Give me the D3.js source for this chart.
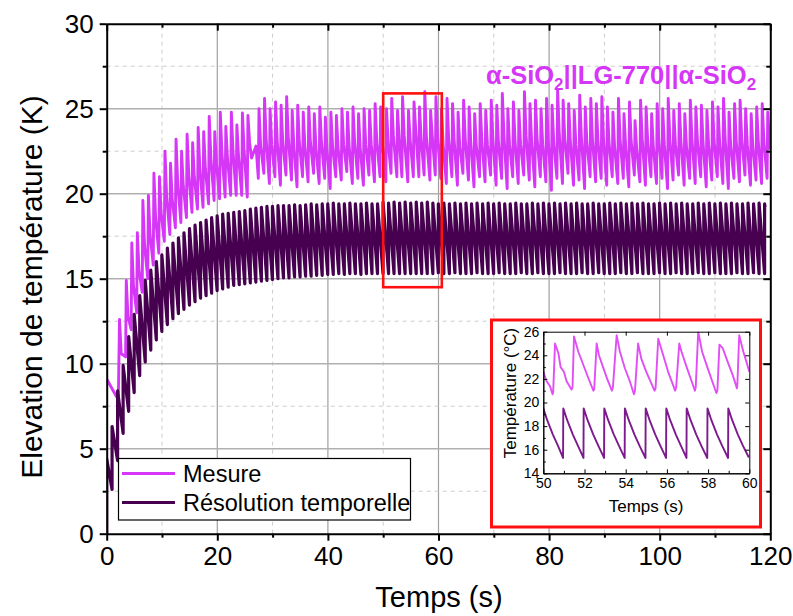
<!DOCTYPE html>
<html><head><meta charset="utf-8">
<script src="https://cdn.jsdelivr.net/npm/d3@7"></script>
<style>
body{margin:0;background:#fff}
svg{display:block;font-family:"Liberation Sans",Arial,sans-serif}
</style>
</head><body>
<svg id="c" width="793" height="616"></svg>
<script>
// ---------------- DATA ----------------
// Axis ticks
const xMajorTicks = [0, 20, 40, 60, 80, 100, 120];
const xMinorTicks = [10, 30, 50, 70, 90, 110];
const yMajorTicks = [0, 5, 10, 15, 20, 25, 30];
const yMinorTicks = [2.5, 7.5, 12.5, 17.5, 22.5, 27.5];
const insetXTicks = [50, 52, 54, 56, 58, 60];
const insetXMinor = [51, 53, 55, 57, 59];
const insetYTicks = [14, 16, 18, 20, 22, 24, 26];
const insetYMinor = [15, 17, 19, 21, 23, 25];
const seriesNames = ["Mesure", "Résolution temporelle"];

// "Résolution temporelle": jump times (s), value after each jump, value reached just before the next jump
const resInitial = 0;
const resEnd = 119.05;
const resT = [0,0.97,1.97,2.97,3.97,4.97,5.97,6.97,7.97,8.97,
9.97,10.97,11.97,12.97,13.97,14.97,15.97,16.97,17.97,18.97,
19.97,20.97,21.97,22.97,23.97,24.97,25.97,26.97,27.97,28.97,
29.97,30.97,31.97,32.97,33.97,34.97,35.97,36.97,37.97,38.97,
39.97,40.97,41.97,42.97,43.97,44.97,45.97,46.97,47.97,48.97,
49.97,50.97,51.96,52.96,53.96,54.97,55.97,56.96,57.97,58.98,
59.97,60.97,61.97,62.97,63.97,64.97,65.97,66.97,67.97,68.97,
69.97,70.97,71.97,72.97,73.97,74.97,75.97,76.97,77.97,78.97,
79.97,80.97,81.97,82.97,83.97,84.97,85.97,86.97,87.97,88.97,
89.97,90.97,91.97,92.97,93.97,94.97,95.97,96.97,97.97,98.97,
99.97,100.97,101.97,102.97,103.97,104.97,105.97,106.97,107.97,108.97,
109.97,110.97,111.97,112.97,113.97,114.97,115.97,116.97,117.97,118.97];
const resPeak = [4.4,6.3,8.4,9.9,11.6,12.9,14.0,14.9,15.5,16.0,
16.4,16.8,17.1,17.4,17.7,17.95,18.15,18.3,18.45,18.6,
18.7,18.8,18.85,18.9,18.95,19.0,19.1,19.15,19.2,19.25,
19.25,19.3,19.3,19.3,19.35,19.3,19.35,19.4,19.35,19.4,
19.4,19.45,19.4,19.4,19.45,19.4,19.4,19.45,19.4,19.4,
19.5,19.45,19.5,19.45,19.5,19.45,19.5,19.45,19.5,19.45,
19.4,19.45,19.4,19.45,19.4,19.45,19.4,19.45,19.4,19.45,
19.4,19.45,19.4,19.4,19.45,19.4,19.4,19.45,19.4,19.45,
19.4,19.45,19.4,19.45,19.4,19.45,19.4,19.4,19.45,19.4,
19.4,19.45,19.4,19.45,19.4,19.45,19.4,19.45,19.4,19.4,
19.45,19.4,19.45,19.4,19.45,19.4,19.4,19.45,19.4,19.45,
19.4,19.45,19.4,19.45,19.4,19.4,19.45,19.4,19.45,19.4];
const resTrough = [2.6,4.3,5.9,7.2,8.3,9.3,10.1,10.8,11.4,11.9,
12.3,12.65,12.95,13.2,13.45,13.65,13.85,14.0,14.15,14.3,
14.4,14.5,14.6,14.65,14.7,14.75,14.8,14.85,14.9,14.95,
15.0,15.05,15.05,15.1,15.1,15.15,15.15,15.2,15.2,15.25,
15.25,15.3,15.25,15.3,15.3,15.25,15.3,15.3,15.3,15.3,
15.3,15.3,15.3,15.3,15.3,15.3,15.3,15.3,15.3,15.35,
15.3,15.3,15.35,15.3,15.3,15.3,15.35,15.3,15.3,15.3,
15.35,15.3,15.3,15.3,15.35,15.3,15.3,15.35,15.3,15.3,
15.3,15.35,15.3,15.3,15.3,15.35,15.3,15.3,15.35,15.3,
15.3,15.3,15.35,15.3,15.3,15.35,15.3,15.3,15.3,15.35,
15.3,15.3,15.35,15.3,15.3,15.3,15.35,15.3,15.3,15.35,
15.3,15.3,15.3,15.35,15.3,15.3,15.35,15.3,15.3,19.2];

// "Mesure": initial drift, then per cycle: jump time, peak, knee, trough reached before next jump
const magStart = [[0, 9.1], [1.7, 8.1], [2.1, 7.9]];
const magShape = [0.12, 0.42];           // peak / knee delay after each jump (s), read on the inset
const magGap = [[26.2, 22.1], [27.0, 22.8]];
const magEnd = 120;
const magT = [2.2,3.42,4.42,5.42,6.42,7.42,8.42,9.42,10.42,11.42,12.42,13.42,14.42,15.42,16.42,17.42,18.42,19.42,20.42,21.42,22.42,23.42,24.42,25.42,
27.42,28.42,29.42,30.42,31.42,32.42,33.42,34.42,35.42,36.42,37.42,38.42,39.42,40.42,41.42,42.42,43.42,44.42,45.42,46.42,47.42,48.42,49.42,
50.48,51.42,52.47,53.38,54.45,55.45,56.45,57.4,58.45,59.42,
60.42,61.42,62.42,63.42,64.42,65.42,66.42,67.42,68.42,69.42,70.42,71.42,72.42,73.42,74.42,75.42,76.42,77.42,78.42,79.42,
80.42,81.42,82.42,83.42,84.42,85.42,86.42,87.42,88.42,89.42,90.42,91.42,92.42,93.42,94.42,95.42,96.42,97.42,98.42,99.42,
100.42,101.42,102.42,103.42,104.42,105.42,106.42,107.42,108.42,109.42,110.42,111.42,112.42,113.42,114.42,115.42,116.42,117.42,118.42,119.42];
const magPeak = [12.6,14.9,17.1,17.7,19.6,19.9,21.2,21.0,22.5,21.8,23.2,22.5,23.5,23.0,23.9,23.65,24.55,23.65,24.8,23.95,24.8,24.05,24.75,24.6,
25.0,25.6,25.0,25.4,25.2,25.7,24.9,25.2,24.8,25.1,24.7,25.1,24.5,24.8,24.6,25.0,24.8,25.1,24.7,25.0,24.9,25.3,25.1,
25.0,25.6,24.9,25.7,24.9,25.4,25.1,26.0,24.9,25.7,
25.0,25.6,25.3,24.8,25.5,25.1,24.7,25.3,24.9,25.5,25.2,25.9,25.0,25.4,24.9,26.0,25.3,25.5,25.0,25.6,25.2,26.1,25.5,25.3,24.9,25.8,25.1,25.6,25.3,25.7,
25.1,24.8,25.6,24.7,25.4,24.3,25.5,25.1,24.7,25.3,25.0,25.6,24.9,25.3,24.7,25.5,25.1,25.2,24.9,25.4,25.1,25.6,24.8,25.3,25.5,25.0,24.7,25.1,25.3,24.8];
const magKnee = [10.6,12.8,14.6,15.5,17.0,17.6,18.6,18.9,19.8,19.7,20.6,20.5,21.1,21.0,21.5,21.5,22.1,21.8,22.4,22.1,22.5,22.2,22.6,23.0,
22.8,23.2,22.9,23.1,23.0,23.3,22.8,23.0,22.8,23.0,22.7,23.0,22.6,22.8,22.7,22.9,22.8,23.0,22.7,22.9,22.9,23.1,23.0,
23.0,23.4,23.2,23.4,23.2,23.8,23.2,23.3,23.4,23.3,
22.9,23.2,23.1,22.8,23.2,23.0,22.8,23.1,22.9,23.2,23.0,23.4,22.9,23.1,22.9,23.4,23.1,23.2,22.9,23.2,23.0,23.5,23.2,23.1,22.9,23.3,23.0,23.2,23.1,23.2,
23.0,22.8,23.2,22.8,23.1,22.6,23.2,23.0,22.8,23.1,22.9,23.2,22.9,23.1,22.8,23.2,23.0,23.0,22.9,23.1,23.0,23.2,22.8,23.1,23.2,22.9,22.8,23.0,23.1,22.9];
const magTrough = [10.4,12.0,13.0,14.2,15.0,15.8,16.5,17.2,17.6,18.0,18.3,18.6,18.9,19.1,19.2,19.4,19.6,19.7,19.8,19.9,19.9,19.9,19.8,20.9,
21.2,20.6,21.0,20.5,21.1,20.8,20.4,21.0,20.7,21.2,20.6,20.9,20.3,21.0,20.8,21.3,20.6,20.9,20.5,21.1,20.7,21.0,20.7,
21.2,21.0,21.0,20.7,21.0,21.0,21.1,20.8,21.1,20.9,
20.6,21.0,20.5,21.2,20.8,20.4,21.0,20.7,21.1,20.5,20.9,20.3,21.0,20.6,21.1,20.8,20.4,21.0,20.7,20.2,20.9,20.6,21.2,20.5,20.8,20.3,21.0,20.7,20.9,20.5,
21.0,20.6,20.9,20.4,21.1,20.7,20.5,21.0,20.6,20.9,20.3,20.8,21.1,20.5,20.9,20.6,21.0,20.4,20.8,21.0,20.6,20.3,20.9,20.7,21.1,20.5,20.8,20.6,20.9,22.6];

// Inset (50–60 s) – points read on the zoomed curves
const insetMag = [[50.0,22.6],[50.1,22.1],[50.16,21.8],[50.32,21.4],[50.45,20.7],[50.48,20.9],[50.57,25.0],[50.73,24.2],[50.84,23.0],[51.0,22.6],[51.13,21.8],[51.37,21.1],
[51.42,21.3],[51.49,25.6],[51.7,24.3],[51.94,23.2],[52.18,22.1],[52.43,21.0],
[52.47,21.1],[52.59,25.0],[52.7,24.0],[52.9,23.0],[53.1,22.0],[53.33,21.0],
[53.38,21.3],[53.56,25.7],[53.72,24.3],[53.96,22.9],[54.2,21.8],[54.4,20.7],
[54.45,21.0],[54.6,25.0],[54.76,23.7],[55.0,22.6],[55.4,21.0],
[55.45,21.2],[55.58,25.4],[55.82,24.0],[56.06,22.6],[56.4,21.0],
[56.45,21.3],[56.6,25.0],[56.71,24.3],[56.96,23.0],[57.36,21.0],
[57.4,21.3],[57.52,26.0],[57.71,24.3],[57.96,23.0],[58.4,20.8],
[58.45,21.0],[58.55,24.9],[58.71,24.6],[58.96,23.4],[59.2,22.3],[59.4,21.2],
[59.42,21.5],[59.51,25.7],[59.71,24.3],[59.87,23.4],[60.0,22.6]];
const insetRes = [[50.0,19.5],[50.19,18.5],[50.46,17.3],[50.72,16.3],[50.96,15.3],
[50.97,19.5],[51.16,18.5],[51.43,17.3],[51.69,16.3],[51.95,15.3],
[51.96,19.5],[52.15,18.5],[52.42,17.3],[52.68,16.3],[52.95,15.3],
[52.96,19.5],[53.15,18.5],[53.42,17.3],[53.68,16.3],[53.95,15.3],
[53.96,19.5],[54.15,18.5],[54.42,17.3],[54.68,16.3],[54.96,15.3],
[54.97,19.5],[55.16,18.5],[55.43,17.3],[55.69,16.3],[55.96,15.3],
[55.97,19.5],[56.16,18.5],[56.43,17.3],[56.69,16.3],[56.95,15.3],
[56.96,19.5],[57.15,18.5],[57.42,17.3],[57.68,16.3],[57.96,15.3],
[57.97,19.5],[58.16,18.5],[58.43,17.3],[58.69,16.3],[58.97,15.3],
[58.98,19.5],[59.17,18.5],[59.44,17.3],[59.7,16.3],[59.96,15.4],[60.0,15.4]];

// Zoom window drawn on the main plot
const zoomBox = {t0: 50, t1: 60.6, v0: 14.5, v1: 25.9};

// ---------------- DRAWING ----------------
const svg = d3.select("#c");
const col = {mes: "#d636f6", res: "#46004f", mesIn: "#e14ef6", resIn: "#7c1a8e", red: "#ff1010"};

const x = d3.scaleLinear().domain([0, 120]).range([106.7, 770.3]);
const y = d3.scaleLinear().domain([0, 30]).range([533.7, 23.7]);

svg.append("defs").append("clipPath").attr("id", "clipMain")
  .append("rect").attr("x", x(0)).attr("y", y(30)).attr("width", x(120) - x(0)).attr("height", y(0) - y(30));

// grid
const g = svg.append("g");
g.selectAll(".gxM").data(xMajorTicks.slice(1, -1)).join("line")
  .attr("x1", d => x(d)).attr("x2", d => x(d)).attr("y1", y(0)).attr("y2", y(30))
  .attr("stroke", "#a0a0a0").attr("stroke-width", 1.2);
g.selectAll(".gxm").data(xMinorTicks).join("line")
  .attr("x1", d => x(d)).attr("x2", d => x(d)).attr("y1", y(0)).attr("y2", y(30))
  .attr("stroke", "#cccccc").attr("stroke-width", 1).attr("stroke-dasharray", "4,4");
g.selectAll(".gyM").data(yMajorTicks.slice(1, -1)).join("line")
  .attr("y1", d => y(d)).attr("y2", d => y(d)).attr("x1", x(0)).attr("x2", x(120))
  .attr("stroke", "#b0b0b0").attr("stroke-width", 1.4);
g.selectAll(".gym").data(yMinorTicks).join("line")
  .attr("y1", d => y(d)).attr("y2", d => y(d)).attr("x1", x(0)).attr("x2", x(120))
  .attr("stroke", "#cccccc").attr("stroke-width", 1).attr("stroke-dasharray", "4,4");

// series points
function resPoints() {
  const pts = [[resT[0], resInitial]];
  for (let k = 0; k < resT.length; k++) {
    if (k > 0) pts.push([resT[k], resTrough[k - 1]]);
    pts.push([resT[k], resPeak[k]]);
  }
  pts.push([resEnd, resTrough[resT.length - 1]]);
  return pts;
}
function magPoints() {
  const pts = magStart.map(d => d.slice());
  for (let i = 0; i < magT.length; i++) {
    if (i > 0) pts.push([magT[i], magTrough[i - 1]]);
    pts.push([magT[i] + magShape[0], magPeak[i]]);
    pts.push([magT[i] + magShape[1], magKnee[i]]);
  }
  pts.push([magEnd, magTrough[magT.length - 1]]);
  magGap.forEach(p => pts.push(p));
  pts.sort((a, b) => a[0] - b[0]);
  return pts;
}
const line = d3.line().x(d => x(d[0])).y(d => y(d[1]));
const plot = svg.append("g").attr("clip-path", "url(#clipMain)");
plot.append("path").attr("d", line(magPoints())).attr("fill", "none")
  .attr("stroke", col.mes).attr("stroke-width", 2.9).attr("stroke-linejoin", "round");
plot.append("path").attr("d", line(resPoints())).attr("fill", "none")
  .attr("stroke", col.res).attr("stroke-width", 3.2).attr("stroke-linejoin", "round");

// axes
const tickFont = 26;
function styleAxis(sel) {
  sel.select(".domain").attr("stroke", "#000").attr("stroke-width", 2);
  sel.selectAll(".tick line").attr("stroke", "#000").attr("stroke-width", 2);
  sel.selectAll("text").attr("font-size", tickFont).attr("fill", "#000")
    .attr("font-family", "'Liberation Sans', Arial, sans-serif");
}
const axB = svg.append("g").attr("transform", `translate(0,${y(0)})`)
  .call(d3.axisBottom(x).tickValues(xMajorTicks).tickSize(7).tickSizeOuter(0).tickPadding(6));
styleAxis(axB);
svg.append("g").attr("transform", `translate(0,${y(0)})`)
  .call(d3.axisBottom(x).tickValues(xMinorTicks).tickSize(4).tickFormat("").tickSizeOuter(0))
  .call(styleAxis).select(".domain").remove();
const axL = svg.append("g").attr("transform", `translate(${x(0)},0)`)
  .call(d3.axisLeft(y).tickValues(yMajorTicks).tickSize(7).tickSizeOuter(0).tickPadding(6));
styleAxis(axL);
svg.append("g").attr("transform", `translate(${x(0)},0)`)
  .call(d3.axisLeft(y).tickValues(yMinorTicks).tickSize(4).tickFormat("").tickSizeOuter(0))
  .call(styleAxis).select(".domain").remove();
// top & right (ticks inward)
svg.append("g").attr("transform", `translate(0,${y(30)})`)
  .call(d3.axisTop(x).tickValues(xMajorTicks).tickSize(-7).tickFormat("").tickSizeOuter(0)).call(styleAxis);
svg.append("g").attr("transform", `translate(0,${y(30)})`)
  .call(d3.axisTop(x).tickValues(xMinorTicks).tickSize(-4).tickFormat("").tickSizeOuter(0))
  .call(styleAxis).select(".domain").remove();
svg.append("g").attr("transform", `translate(${x(120)},0)`)
  .call(d3.axisRight(y).tickValues(yMajorTicks).tickSize(-7).tickFormat("").tickSizeOuter(0)).call(styleAxis);
svg.append("g").attr("transform", `translate(${x(120)},0)`)
  .call(d3.axisRight(y).tickValues(yMinorTicks).tickSize(-4).tickFormat("").tickSizeOuter(0))
  .call(styleAxis).select(".domain").remove();

// axis titles
svg.append("text").attr("x", 439).attr("y", 607).attr("text-anchor", "middle")
  .attr("font-size", 29).text("Temps (s)");
svg.append("text").attr("transform", `translate(42,287) rotate(-90)`)
  .attr("text-anchor", "middle").attr("font-size", 30).text("Elevation de température (K)");

// compound label
const lab = svg.append("text").attr("x", 486).attr("y", 84).attr("font-size", 25.5)
  .attr("font-weight", "bold").attr("fill", col.mes);
lab.append("tspan").text("α-SiO");
lab.append("tspan").attr("font-size", 17).attr("dy", 6).text("2");
lab.append("tspan").attr("dy", -6).text("||LG-770||α-SiO");
lab.append("tspan").attr("font-size", 17).attr("dy", 6).text("2");

// zoom rectangle on main plot
svg.append("rect").attr("x", x(zoomBox.t0)).attr("y", y(zoomBox.v1))
  .attr("width", x(zoomBox.t1) - x(zoomBox.t0)).attr("height", y(zoomBox.v0) - y(zoomBox.v1))
  .attr("fill", "none").attr("stroke", col.red).attr("stroke-width", 2.6);

// legend
const leg = svg.append("g");
leg.append("rect").attr("x", 118.5).attr("y", 458.5).attr("width", 292).attr("height", 61.5)
  .attr("fill", "#fff").attr("stroke", "#000").attr("stroke-width", 1.2);
[[col.mes, 473.5, 482], [col.res, 502.5, 511]].forEach((r, i) => {
  leg.append("line").attr("x1", 122).attr("x2", 175).attr("y1", r[1]).attr("y2", r[1])
    .attr("stroke", r[0]).attr("stroke-width", 3);
  leg.append("text").attr("x", 183).attr("y", r[2]).attr("font-size", 23.5).text(seriesNames[i]);
});

// ---------------- INSET ----------------
const xi = d3.scaleLinear().domain([50, 60]).range([543.3, 749.3]);
const yi = d3.scaleLinear().domain([14, 26]).range([473.3, 331.7]);
svg.append("rect").attr("x", 491.5).attr("y", 320).attr("width", 269).attr("height", 207)
  .attr("fill", "#fff").attr("stroke", col.red).attr("stroke-width", 3);
svg.append("defs").append("clipPath").attr("id", "clipIn")
  .append("rect").attr("x", xi(50)).attr("y", yi(26)).attr("width", xi(60) - xi(50)).attr("height", yi(14) - yi(26));
const li = d3.line().x(d => xi(d[0])).y(d => yi(d[1]));
const ip = svg.append("g").attr("clip-path", "url(#clipIn)");
ip.append("path").attr("d", li(insetMag)).attr("fill", "none").attr("stroke", col.mesIn)
  .attr("stroke-width", 1.9).attr("stroke-linejoin", "round");
ip.append("path").attr("d", li(insetRes)).attr("fill", "none").attr("stroke", col.resIn)
  .attr("stroke-width", 1.9).attr("stroke-linejoin", "round");

function styleIn(sel) {
  sel.select(".domain").attr("stroke", "#000").attr("stroke-width", 1);
  sel.selectAll(".tick line").attr("stroke", "#000").attr("stroke-width", 1);
  sel.selectAll("text").attr("font-size", 14).attr("fill", "#000")
    .attr("font-family", "'Liberation Sans', Arial, sans-serif");
}
svg.append("g").attr("transform", `translate(0,${yi(14)})`)
  .call(d3.axisBottom(xi).tickValues(insetXTicks).tickSize(-4).tickSizeOuter(0).tickPadding(5)).call(styleIn);
svg.append("g").attr("transform", `translate(0,${yi(14)})`)
  .call(d3.axisBottom(xi).tickValues(insetXMinor).tickSize(-2.5).tickFormat("").tickSizeOuter(0)).call(styleIn);
svg.append("g").attr("transform", `translate(${xi(50)},0)`)
  .call(d3.axisLeft(yi).tickValues(insetYTicks).tickSize(-4).tickSizeOuter(0).tickPadding(4)).call(styleIn);
svg.append("g").attr("transform", `translate(${xi(50)},0)`)
  .call(d3.axisLeft(yi).tickValues(insetYMinor).tickSize(-2.5).tickFormat("").tickSizeOuter(0)).call(styleIn);
svg.append("g").attr("transform", `translate(0,${yi(26)})`)
  .call(d3.axisTop(xi).tickValues(insetXTicks).tickSize(-4).tickFormat("").tickSizeOuter(0)).call(styleIn);
svg.append("g").attr("transform", `translate(${xi(60)},0)`)
  .call(d3.axisRight(yi).tickValues(insetYTicks).tickSize(-4).tickFormat("").tickSizeOuter(0)).call(styleIn);
svg.append("text").attr("x", 646).attr("y", 512).attr("text-anchor", "middle")
  .attr("font-size", 17).text("Temps (s)");
svg.append("text").attr("transform", `translate(516,393) rotate(-90)`)
  .attr("text-anchor", "middle").attr("font-size", 17).text("Température (°C)");
</script>
</body></html>
